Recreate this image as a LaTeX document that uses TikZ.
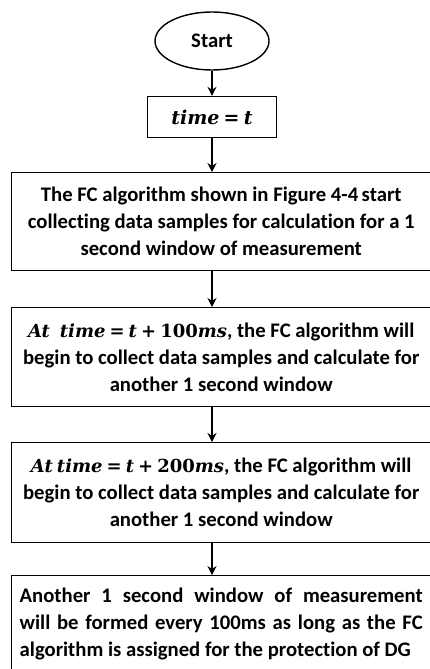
\documentclass[tikz,border=0pt]{standalone}
\usepackage{fontspec}
\setmainfont{Carlito}[Ligatures=NoCommon]
\newfontfamily\eqserif{DejaVu Serif}
\usetikzlibrary{arrows.meta,shapes.geometric}

\newcommand{\bodyfont}{\fontsize{20.7}{27}\selectfont\bfseries}
\newcommand{\eqfont}{\fontsize{19}{24}\selectfont}
\newcommand{\eqinline}{\fontsize{18}{24}\selectfont}
% equation pieces: bold italic variables, bold upright symbols and digits
\newcommand{\ev}[1]{{\eqserif\bfseries\itshape #1}}
\newcommand{\eo}[1]{{\eqserif\bfseries #1}}

\tikzset{
  txt/.style={font=\bodyfont},
  outline/.style={draw, line width=1.4pt, inner sep=0pt},
  terminal/.style={outline, txt, ellipse, minimum width=114pt, minimum height=58pt},
  assignbox/.style={outline, rectangle, minimum width=129pt, minimum height=41pt, font=\eqfont},
  procbox/.style={outline, txt, rectangle, anchor=north west,
    minimum width=419pt, align=center},
  link/.style={-{Stealth[length=9pt,width=9pt,inset=3pt]}, line width=1.2pt}
}

\begin{document}
\begin{tikzpicture}[x=1pt,y=-1pt]

% page frame and clipping of the overflowing boxes
\useasboundingbox (0,0) rectangle (430,669);
\clip (0,0) rectangle (430,669);

% terminal and initial assignment
\node[terminal] (start) at (212,41) {Start};
\node[assignbox] (assign) at (212,117) {\ev{time} \eo{=} \ev{t}};

% process steps
\node[procbox, minimum height=98pt] (b1) at (11,172)
  {The FC algorithm shown in Figure 4-4\,start\\
   collecting data samples for calculation for a 1\\
   second window of measurement};
\node[procbox, minimum height=99pt] (b2) at (11,307)
  {{\eqinline\ev{At}\hspace{0.55em}\ev{time} \eo{=} \ev{t} \eo{+} \eo{100}\ev{ms}}, the FC algorithm will\\
   begin to collect data samples and calculate for\\
   another 1 second window};
\node[procbox, minimum height=100pt] (b3) at (11,442)
  {{\eqinline\ev{At} \ev{time} \eo{=} \ev{t} \eo{+} \eo{200}\ev{ms}}, the FC algorithm will\\
   begin to collect data samples and calculate for\\
   another 1 second window};
\node[procbox, minimum height=97pt, align=left] (b4) at (11,575)
  {\makebox[403pt][s]{Another 1 second window of measurement}\\
   \makebox[403pt][s]{will be formed every 100ms as long as the FC}\\
   algorithm is assigned for the protection of DG};

% connectors
\draw[link] (start.south) -- (assign.north);
\draw[link] (assign.south) -- (assign.south |- b1.north);
\draw[link] (assign.south |- b1.south) -- (assign.south |- b2.north);
\draw[link] (assign.south |- b2.south) -- (assign.south |- b3.north);
\draw[link] (assign.south |- b3.south) -- (assign.south |- b4.north);
\end{tikzpicture}
\end{document}
